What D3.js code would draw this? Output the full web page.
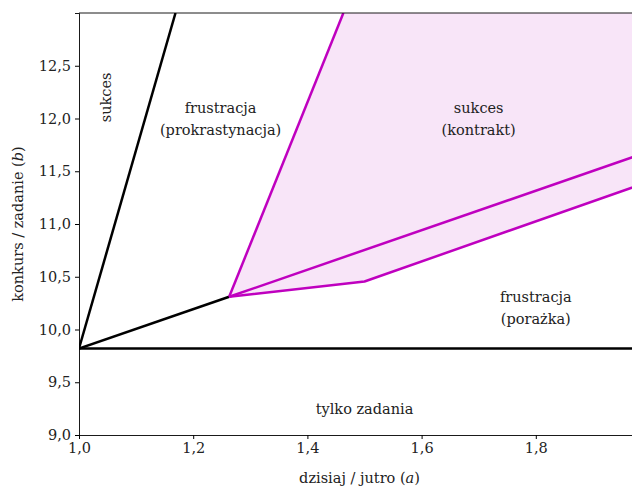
<!DOCTYPE html>
<html>
<head>
<meta charset="utf-8">
<script src="https://cdn.jsdelivr.net/npm/d3@7"></script>
<style>
  html, body { margin: 0; padding: 0; background: #fff; }
  svg { display: block; }
  text { font-family: "DejaVu Serif", serif; }
</style>
</head>
<body>
<div id="container"></div>
<script>
// data: boundary lines (a = dzisiaj/jutro, b = konkurs/zadanie)
const xTicks = [1.0, 1.2, 1.4, 1.6, 1.8];
const yTicks = [9.0, 9.5, 10.0, 10.5, 11.0, 11.5, 12.0, 12.5];

const blackLines = [
    [[1.0, 9.82], [2.0, 9.82]],
    [[1.0, 9.82], [1.169, 13.0]],
    [[1.0, 9.82], [1.263, 10.31]]
];
const purpleLines = [
    [[1.263, 10.31], [1.463, 13.0]],
    [[1.263, 10.31], [2.0, 11.69]],
    [[1.263, 10.31], [1.5, 10.455], [2.0, 11.405]]
];
// shaded "sukces (kontrakt)" region
const contractArea = [
    [1.263, 10.31], [1.463, 13.0], [2.0, 13.0], [2.0, 11.405], [1.5, 10.455]
];

const regionLabels = [
    { lines: ['sukces'], a: 1.048, b: 12.2, rotate: true },
    { lines: ['frustracja', '(prokrastynacja)'], a: 1.248, b: 12.0 },
    { lines: ['sukces', '(kontrakt)'], a: 1.7, b: 12.0 },
    { lines: ['frustracja', '(porażka)'], a: 1.8, b: 10.2 },
    { lines: ['tylko zadania'], a: 1.5, b: 9.25 }
];

const width = 632, height = 488;
const margin = { left: 79, top: 13, right: -18, bottom: 53 };
const font = '"DejaVu Serif", serif';

const svg = d3.select('#container')
    .append('svg')
    .attr('width', width)
    .attr('height', height);

const x = d3.scaleLinear()
    .domain([1.0, 2.0])
    .range([margin.left, width - margin.right]);
const y = d3.scaleLinear()
    .domain([9.0, 13.0])
    .range([height - margin.bottom, margin.top]);

svg.append('defs').append('clipPath')
    .attr('id', 'plotClip')
    .append('rect')
    .attr('x', x(1.0))
    .attr('y', y(13.0))
    .attr('width', x(2.0) - x(1.0))
    .attr('height', y(9.0) - y(13.0));

const plot = svg.append('g').attr('clip-path', 'url(#plotClip)');
const line = d3.line().x(d => x(d[0])).y(d => y(d[1]));

plot.append('path')
    .attr('d', line(contractArea) + 'Z')
    .attr('fill', '#bf00bf')
    .attr('fill-opacity', 0.1)
    .attr('stroke', 'none');

blackLines.forEach(pts => {
    plot.append('path')
        .attr('d', line(pts))
        .attr('fill', 'none')
        .attr('stroke', '#000')
        .attr('stroke-width', 2.5);
});
purpleLines.forEach(pts => {
    plot.append('path')
        .attr('d', line(pts))
        .attr('fill', 'none')
        .attr('stroke', '#bf00bf')
        .attr('stroke-width', 2.5)
        .attr('stroke-linejoin', 'round');
});

// region labels
regionLabels.forEach(lab => {
    const t = svg.append('text')
        .attr('text-anchor', 'middle')
        .attr('font-size', 14.5)
        .attr('fill', '#222');
    if (lab.rotate) {
        t.attr('transform', `translate(${x(lab.a) + 5},${y(lab.b)}) rotate(-90)`)
            .text(lab.lines[0]);
    } else {
        lab.lines.forEach((s, i) => {
            t.append('tspan')
                .attr('x', x(lab.a))
                .attr('y', y(lab.b) + 5 + (i - (lab.lines.length - 1) / 2) * 22)
                .text(s);
        });
    }
});

// axes
const fmt = d => d3.format('.1f')(d).replace('.', ',');
const xAxis = svg.append('g')
    .attr('transform', `translate(0,${y(9.0)})`)
    .call(d3.axisBottom(x).tickValues(xTicks).tickFormat(fmt).tickSize(4).tickPadding(4));
const yAxis = svg.append('g')
    .attr('transform', `translate(${x(1.0)},0)`)
    .call(d3.axisLeft(y).tickValues(yTicks).tickFormat(fmt).tickSize(4).tickPadding(4));
[xAxis, yAxis].forEach(ax => {
    ax.attr('font-family', font);
    ax.selectAll('text').attr('font-size', 14.5).attr('fill', '#222');
    ax.select('.domain').attr('stroke-width', 0.9);
});
// top spine
svg.append('line')
    .attr('x1', x(1.0)).attr('x2', x(2.0))
    .attr('y1', y(13.0)).attr('y2', y(13.0))
    .attr('stroke', '#000')
    .attr('stroke-width', 0.9);

// axis titles
const xt = svg.append('text')
    .attr('x', (x(1.0) + x(2.0)) / 2 - 5)
    .attr('y', height - 5)
    .attr('text-anchor', 'middle')
    .attr('font-size', 14.5)
    .attr('fill', '#222');
xt.append('tspan').text('dzisiaj / jutro (');
xt.append('tspan').attr('font-style', 'italic').text('a');
xt.append('tspan').text(')');

const yt = svg.append('text')
    .attr('transform', `translate(23,${(y(9.0) + y(13.0)) / 2}) rotate(-90)`)
    .attr('text-anchor', 'middle')
    .attr('font-size', 14.5)
    .attr('fill', '#222');
yt.append('tspan').text('konkurs / zadanie (');
yt.append('tspan').attr('font-style', 'italic').text('b');
yt.append('tspan').text(')');
</script>
</body>
</html>
